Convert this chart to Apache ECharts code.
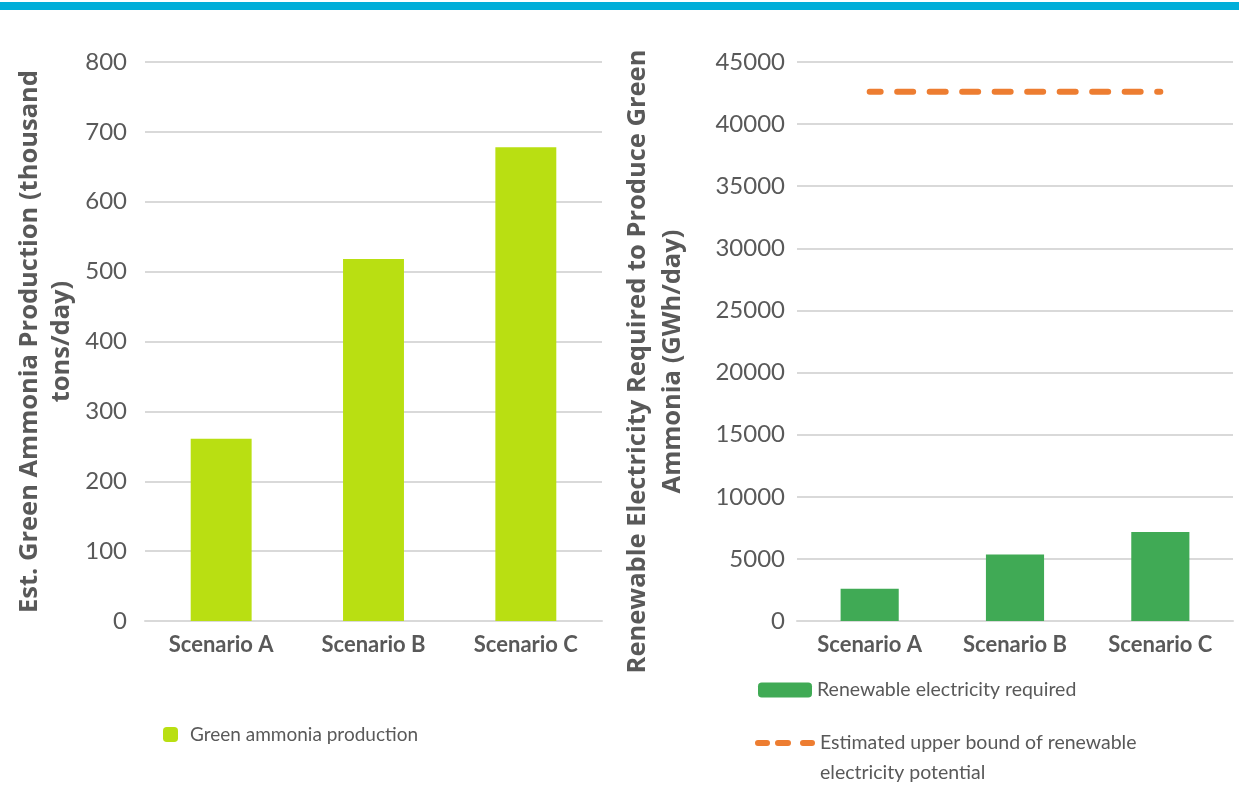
<!doctype html>
<html>
<head>
<meta charset="UTF-8">
<title>Green ammonia</title>
<script src="https://cdn.jsdelivr.net/npm/echarts@6/dist/echarts.min.js"></script>
<style>
  html, body { margin: 0; padding: 0; background: #fff; }
  #chart { width: 1239px; height: 785px; }
</style>
</head>
<body>
<div id="chart"></div>
<script>
// data
var scenarios = ['Scenario A', 'Scenario B', 'Scenario C'];
var ammoniaProduction = [261, 518, 678];          // thousand tons/day
var electricityRequired = [2600, 5350, 7170];     // GWh/day
var upperBound = [42600, 42600, 42600];           // GWh/day
var leftTicks = { min: 0, max: 800, interval: 100 };
var rightTicks = { min: 0, max: 45000, interval: 5000 };

var grey = '#595959';
var font = 'Lato, "Open Sans", sans-serif';
var titleFont = '"Open Sans", Lato, sans-serif';

// three rounded dashes for the legend, sitting at the first text line
var dashIcon = 'path://M0,0h0.01v0.01h-0.01z M59.99,59.99h0.01v0.01h-0.01z ' +
  'M3,12h9a3,3 0 0 1 0,6h-9a3,3 0 0 1 0,-6z ' +
  'M23,12h10a3,3 0 0 1 0,6h-10a3,3 0 0 1 0,-6z ' +
  'M48,12h9a3,3 0 0 1 0,6h-9a3,3 0 0 1 0,-6z';

function plain(v) { return String(v); }

var chart = echarts.init(document.getElementById('chart'));

var option = {
  animation: false,
  textStyle: { fontFamily: font },
  graphic: [{
    type: 'rect',
    shape: { x: 0, y: 2, width: 1239, height: 8 },
    style: { fill: '#00AED9' }
  }],
  grid: [
    { left: 145, right: 637, top: 62, bottom: 164 },
    { left: 797, right: 6, top: 62, bottom: 164 }
  ],
  legend: [{
    left: 163, top: 725, padding: 0,
    itemWidth: 15, itemHeight: 15,
    data: ['Green ammonia production'],
    textStyle: { color: grey, fontSize: 19, padding: [0, 0, 0, 7] }
  }, {
    left: 758, top: 680, padding: 0,
    itemWidth: 54, itemHeight: 15,
    data: ['Renewable electricity required'],
    textStyle: { color: grey, fontSize: 19.5 }
  }, {
    left: 755, top: 728, padding: 0,
    itemWidth: 60, itemHeight: 60,
    data: [{ name: 'Estimated upper bound of renewable electricity potential', icon: dashIcon }],
    formatter: function () {
      return 'Estimated upper bound of renewable\nelectricity potential';
    },
    textStyle: { color: grey, fontSize: 19.5, lineHeight: 30 }
  }],
  xAxis: [0, 1].map(function (i) {
    return {
      type: 'category',
      gridIndex: i,
      data: scenarios,
      axisTick: { show: false },
      axisLine: { lineStyle: { color: '#d9d9d9', width: 2 } },
      axisLabel: { color: grey, fontSize: 22, fontWeight: 'bold', margin: 13 }
    };
  }),
  yAxis: [{
    type: 'value',
    gridIndex: 0,
    min: leftTicks.min, max: leftTicks.max, interval: leftTicks.interval,
    name: 'Est. Green Ammonia Production (thousand\ntons/day)',
    nameLocation: 'middle',
    nameRotate: 90,
    nameGap: 67,
    nameTextStyle: { color: grey, fontFamily: titleFont, fontSize: 25.5, fontWeight: 'bold', lineHeight: 32 },
    axisLabel: { color: grey, fontSize: 24, margin: 18, formatter: plain },
    splitLine: { lineStyle: { color: '#d9d9d9', width: 2 } }
  }, {
    type: 'value',
    gridIndex: 1,
    min: rightTicks.min, max: rightTicks.max, interval: rightTicks.interval,
    name: 'Renewable Electricity Required to Produce Green\nAmmonia (GWh/day)',
    nameLocation: 'middle',
    nameRotate: 90,
    nameGap: 107,
    nameTextStyle: {
      color: grey, fontFamily: titleFont, fontSize: 25.5, fontWeight: 'bold', lineHeight: 35,
      padding: [0, 40, 0, 0]
    },
    axisLabel: { color: grey, fontSize: 24, margin: 12, formatter: plain },
    splitLine: { lineStyle: { color: '#d9d9d9', width: 2 } }
  }],
  series: [{
    name: 'Green ammonia production',
    type: 'bar',
    xAxisIndex: 0, yAxisIndex: 0,
    barWidth: '40%',
    itemStyle: { color: '#B9DF12' },
    data: ammoniaProduction
  }, {
    name: 'Renewable electricity required',
    type: 'bar',
    xAxisIndex: 1, yAxisIndex: 1,
    barWidth: '40%',
    itemStyle: { color: '#40AA55' },
    data: electricityRequired
  }, {
    name: 'Estimated upper bound of renewable electricity potential',
    type: 'line',
    xAxisIndex: 1, yAxisIndex: 1,
    symbol: 'none',
    lineStyle: { color: '#ED7D31', width: 6, type: [16, 16.5], dashOffset: 5, cap: 'round' },
    itemStyle: { color: '#ED7D31' },
    data: upperBound
  }]
};

chart.setOption(option);
</script>
</body>
</html>
